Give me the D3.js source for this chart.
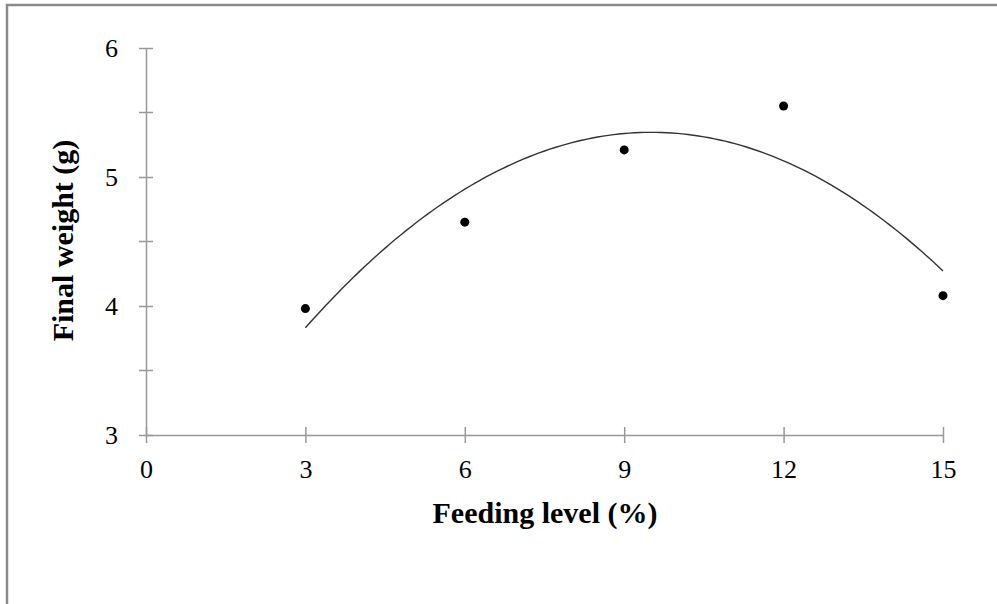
<!DOCTYPE html>
<html>
<head>
<meta charset="utf-8">
<script src="https://cdn.jsdelivr.net/npm/d3@7"></script>
<style>
  body { margin: 0; background: #fff; }
  text { font-family: "Liberation Serif", "Times New Roman", serif; fill: #000; }
  .axis path, .axis line { stroke: #999; stroke-width: 1.5; }
  .axis text { font-size: 26px; }
  .title { font-size: 30px; font-weight: bold; }
</style>
</head>
<body>
<div class="chart"></div>
<script>
// data
var feedingLevel = [3, 6, 9, 12, 15];
var finalWeight = [3.98, 4.65, 5.21, 5.55, 4.08];
var xTicks = [0, 3, 6, 9, 12, 15];
var yTicks = [3, 4, 5, 6];
var yMinorTicks = [3.5, 4.5, 5.5];

var svgWidth = 997;
var svgHeight = 604;
var margin = { top: 48, right: 54, bottom: 169, left: 146 };
var width = svgWidth - margin.left - margin.right;
var height = svgHeight - margin.top - margin.bottom;

var svg = d3.select(".chart")
  .append("svg")
  .attr("width", svgWidth)
  .attr("height", svgHeight);

// outer frame (only left and top edges show)
svg.append("path")
  .attr("d", "M7,604 V5 H997")
  .attr("fill", "none")
  .attr("stroke", "#8a8a8a")
  .attr("stroke-width", 2.5);

var chart = svg.append("g")
  .attr("transform", "translate(" + margin.left + "," + margin.top + ")");

var x = d3.scaleLinear().domain([0, 15]).range([0, width]);
var y = d3.scaleLinear().domain([3, 6]).range([height, 0]);

// x axis
chart.append("g")
  .attr("class", "axis")
  .attr("transform", "translate(0," + height + ")")
  .call(d3.axisBottom(x).tickValues(xTicks).tickFormat(d3.format("d")).tickSize(8).tickSizeOuter(0))
  .call(function(g) { g.selectAll(".tick line").attr("y1", -8).attr("y2", 8); })
  .call(function(g) { g.selectAll(".tick text").attr("dy", "0.71em").attr("y", 25); });

// y axis
var yAxis = chart.append("g")
  .attr("class", "axis")
  .call(d3.axisLeft(y).tickValues(yTicks).tickFormat(d3.format("d")).tickSize(7).tickSizeOuter(0).tickPadding(21))
  .call(function(g) { g.selectAll(".tick line").attr("x1", 7).attr("x2", -7); });

yAxis.selectAll(".minor")
  .data(yMinorTicks)
  .enter()
  .append("line")
  .attr("x1", -7)
  .attr("x2", 7)
  .attr("y1", function(d) { return y(d); })
  .attr("y2", function(d) { return y(d); });

// second-order polynomial trendline, least squares from the points
function quadFit(xs, ys) {
  var s = [0, 0, 0, 0, 0], t = [0, 0, 0];
  xs.forEach(function(xi, i) {
    for (var k = 0; k < 5; k++) s[k] += Math.pow(xi, k);
    for (var k2 = 0; k2 < 3; k2++) t[k2] += Math.pow(xi, k2) * ys[i];
  });
  var m = [[s[0], s[1], s[2], t[0]], [s[1], s[2], s[3], t[1]], [s[2], s[3], s[4], t[2]]];
  for (var i = 0; i < 3; i++) {
    for (var j = i + 1; j < 3; j++) {
      var f = m[j][i] / m[i][i];
      for (var k = i; k < 4; k++) m[j][k] -= f * m[i][k];
    }
  }
  var c = [0, 0, 0];
  for (var i2 = 2; i2 >= 0; i2--) {
    var v = m[i2][3];
    for (var k3 = i2 + 1; k3 < 3; k3++) v -= m[i2][k3] * c[k3];
    c[i2] = v / m[i2][i2];
  }
  return c;
}

var coef = quadFit(feedingLevel, finalWeight);
var curveX = d3.range(3, 15.001, 0.1);

chart.append("path")
  .datum(curveX)
  .attr("fill", "none")
  .attr("stroke", "#333")
  .attr("stroke-width", 1.4)
  .attr("d", d3.line()
    .x(function(d) { return x(d); })
    .y(function(d) { return y(coef[0] + coef[1] * d + coef[2] * d * d); }));

// points
chart.selectAll("circle")
  .data(feedingLevel)
  .enter()
  .append("circle")
  .attr("cx", function(d) { return x(d); })
  .attr("cy", function(d, i) { return y(finalWeight[i]); })
  .attr("r", 4.5)
  .attr("fill", "#000");

// axis titles
chart.append("text")
  .attr("class", "title")
  .attr("text-anchor", "middle")
  .attr("x", 399)
  .attr("y", height + 88)
  .text("Feeding level (%)");

chart.append("text")
  .attr("class", "title")
  .attr("text-anchor", "middle")
  .attr("transform", "translate(-73," + (height / 2 - 1) + ") rotate(-90)")
  .text("Final weight (g)");
</script>
</body>
</html>
